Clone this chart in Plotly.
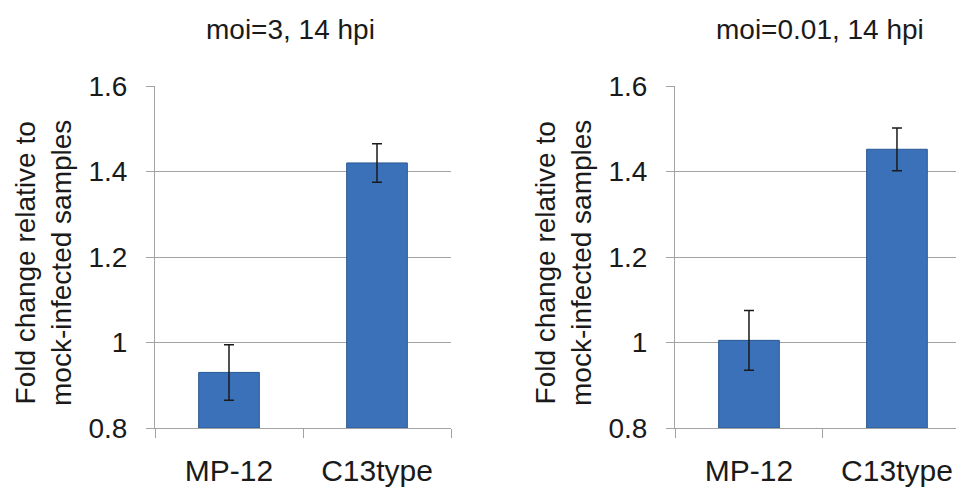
import plotly.graph_objects as go

categories = ["MP-12", "C13type"]
left_values = [0.93, 1.42]
left_errors = [0.065, 0.045]
right_values = [1.005, 1.452]
right_errors = [0.07, 0.05]
panel_titles = ["moi=3, 14 hpi", "moi=0.01, 14 hpi"]
y_title = "Fold change relative to<br>mock-infected samples"
y_ticks = [0.8, 1.0, 1.2, 1.4, 1.6]
y_ticklabels = ["0.8", "1", "1.2", "1.4", "1.6"]

FONT = "Liberation Sans, Arial, sans-serif"
BAR = "#3B71B9"
BAR_LINE = "#2A5894"
GRID = "#A3A3A3"
TXT = "#1a1a1a"

# page body has an 8px margin: draw in a 956x480 figure and convert target pixels
OFF = 8
W, H = 964 - OFF, 488 - OFF


def px(x):
    return (x - OFF) / W


def py(y):
    return 1 - (y - OFF) / H


fig = go.Figure()

for i, (vals, errs) in enumerate([(left_values, left_errors), (right_values, right_errors)]):
    xa = "x" if i == 0 else "x2"
    ya = "y" if i == 0 else "y2"
    fig.add_trace(go.Bar(
        x=categories, y=[v - 0.8 for v in vals], base=0.8, width=0.41,
        xaxis=xa, yaxis=ya,
        marker=dict(color=BAR, line=dict(color=BAR_LINE, width=1)),
        error_y=dict(type="data", array=errs, color=TXT, thickness=1.5, width=5),
        showlegend=False, hoverinfo="skip",
    ))

ydom = [py(428), py(86)]
common_y = dict(range=[0.8, 1.6], tickvals=y_ticks, ticktext=y_ticklabels,
                showgrid=True, gridcolor=GRID, gridwidth=1,
                showline=True, linecolor=GRID, linewidth=1,
                ticks="outside", ticklen=8, tickcolor=GRID,
                tickfont=dict(family=FONT, size=28, color=TXT),
                ticklabelstandoff=13, zeroline=False, fixedrange=True,
                automargin=False, domain=ydom)
common_x = dict(showline=True, linecolor=GRID, linewidth=1, showgrid=False,
                ticks="outside", tickson="boundaries", ticklen=9, tickcolor=GRID,
                tickfont=dict(family=FONT, size=30, color=TXT),
                ticklabelstandoff=16, fixedrange=True, automargin=False)

ann_font = dict(family=FONT, size=28, color=TXT)
fig.update_layout(
    width=W, height=H,
    margin=dict(l=0, r=0, t=0, b=0, pad=0),
    paper_bgcolor="white", plot_bgcolor="white",
    xaxis=dict(**common_x, domain=[px(155), px(451)], range=[-0.5, 1.5], anchor="y"),
    yaxis=dict(**common_y, anchor="x"),
    xaxis2=dict(**common_x, domain=[px(675), 1.0], range=[-0.5, 1.453], anchor="y2"),
    yaxis2=dict(**common_y, anchor="x2"),
    annotations=[
        dict(text=panel_titles[0], x=px(290), y=py(30), xref="paper", yref="paper",
             xanchor="center", yanchor="middle", showarrow=False, font=ann_font),
        dict(text=panel_titles[1], x=px(820), y=py(30), xref="paper", yref="paper",
             xanchor="center", yanchor="middle", showarrow=False, font=ann_font),
        dict(text=y_title, x=px(43), y=py(263), xref="paper", yref="paper",
             xanchor="center", yanchor="middle", showarrow=False, textangle=-90,
             font=ann_font),
        dict(text=y_title, x=px(563), y=py(263), xref="paper", yref="paper",
             xanchor="center", yanchor="middle", showarrow=False, textangle=-90,
             font=ann_font),
    ],
)

fig.write_html("out.html")
